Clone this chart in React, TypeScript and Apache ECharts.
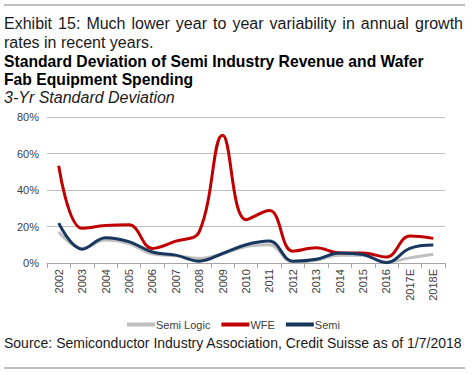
import React, { useEffect, useRef } from "react";
import * as echarts from "echarts";

const categories = ["2002","2003","2004","2005","2006","2007","2008","2009","2010","2011","2012","2013","2014","2015","2016","2017E","2018E"];
const semiLogic = [17, 8, 12.6, 10.7, 5, 4, 2.5, 5, 9, 10, 0.5, 1.5, 4.3, 4.3, 0.5, 2.8, 4.8];
const wfe = [53.3, 19, 20.5, 21, 8, 12, 17, 70, 23.7, 28.7, 6.5, 8.3, 5.5, 5.5, 3.3, 14.8, 13.5];
const semi = [21.8, 7.6, 13.9, 11.7, 6, 4.3, 1, 5.2, 10, 12, 1, 2, 5.5, 4.6, 0.2, 8, 9.8];
const yTicks = [0, 20, 40, 60, 80];

const FONT = "'Liberation Sans', Arial, sans-serif";
const TITLE1 = "Exhibit 15: Much lower year to year variability in annual growth";

function justifiedWords(text: string, font: string, x0: number, x1: number, y: number, fill: string) {
  const words = text.split(" ");
  const cv = document.createElement("canvas");
  const ctx = cv.getContext("2d")!;
  ctx.font = font;
  const widths = words.map((w) => ctx.measureText(w).width);
  const total = widths.reduce((a, b) => a + b, 0);
  const gap = (x1 - x0 - total) / (words.length - 1);
  let x = x0;
  return words.map((w, i) => {
    const el = { type: "text", x, y, style: { text: w, font, fill, verticalAlign: "middle", align: "left" } };
    x += widths[i] + gap;
    return el;
  });
}

export default function App() {
  const ref = useRef<HTMLDivElement>(null);
  useEffect(() => {
    if (!ref.current) return;
    const chart = echarts.init(ref.current, null, { renderer: "svg" });
    const f16 = `16px ${FONT}`;
    chart.setOption({
      animation: false,
      backgroundColor: "#ffffff",
      textStyle: { fontFamily: FONT },
      graphic: [
        { type: "line", shape: { x1: 4, y1: 5, x2: 465, y2: 5 }, style: { stroke: "#c0c0c0", lineWidth: 2 } },
        ...justifiedWords(TITLE1, f16, 4, 463, 23, "#1a1a1a"),
        { type: "text", x: 4, y: 42, style: { text: "rates in recent years.", font: f16, fill: "#1a1a1a", verticalAlign: "middle" } },
        { type: "text", x: 4, y: 61, style: { text: "Standard Deviation of Semi Industry Revenue and Wafer", font: `bold 15.7px ${FONT}`, fill: "#000000", verticalAlign: "middle" } },
        { type: "text", x: 4, y: 79, style: { text: "Fab Equipment Spending", font: `bold 15.7px ${FONT}`, fill: "#000000", verticalAlign: "middle" } },
        { type: "text", x: 4, y: 97, style: { text: "3-Yr Standard Deviation", font: `italic 16px ${FONT}`, fill: "#1a1a1a", verticalAlign: "middle" } },
        { type: "text", x: 4, y: 343, style: { text: "Source: Semiconductor Industry Association, Credit Suisse as of 1/7/2018", font: `14px ${FONT}`, fill: "#1a1a1a", verticalAlign: "middle" } },
        { type: "line", shape: { x1: 4, y1: 368, x2: 465, y2: 368 }, style: { stroke: "#c0c0c0", lineWidth: 2 } }
      ],
      grid: { left: 47, right: 27, top: 117, bottom: 112, containLabel: false },
      legend: {
        left: 122,
        top: 314,
        icon: "rect",
        itemWidth: 28,
        itemHeight: 4,
        itemGap: 11,
        textStyle: { fontSize: 11, color: "#404040", fontFamily: FONT, padding: [0, 0, 0, -4] },
        data: ["Semi Logic", "WFE", "Semi"]
      },
      xAxis: {
        type: "category",
        data: categories,
        boundaryGap: true,
        axisLine: { lineStyle: { color: "#a6a6a6", width: 1 } },
        axisTick: { show: true, alignWithLabel: false, length: 5, lineStyle: { color: "#a6a6a6" } },
        axisLabel: { rotate: 90, fontSize: 11, color: "#404040", fontFamily: FONT, interval: 0, margin: 6 }
      },
      yAxis: {
        type: "value",
        min: 0,
        max: 80,
        interval: 20,
        axisLine: { show: false },
        axisTick: { show: false },
        splitLine: { lineStyle: { color: "#bfbfbf", width: 1 } },
        axisLabel: { formatter: (v: number) => (yTicks.includes(v) ? v + "%" : ""), fontSize: 11, color: "#404040", fontFamily: FONT, margin: 8 }
      },
      series: [
        { name: "Semi Logic", type: "line", data: semiLogic, smooth: 0.4, showSymbol: false, symbol: "none", lineStyle: { color: "#bfbfbf", width: 3 }, itemStyle: { color: "#bfbfbf" }, z: 1 },
        { name: "WFE", type: "line", data: wfe, smooth: 0.4, showSymbol: false, symbol: "none", lineStyle: { color: "#c00000", width: 3 }, itemStyle: { color: "#c00000" }, z: 2 },
        { name: "Semi", type: "line", data: semi, smooth: 0.4, showSymbol: false, symbol: "none", lineStyle: { color: "#17375e", width: 3 }, itemStyle: { color: "#17375e" }, z: 3 }
      ]
    });
    return () => chart.dispose();
  }, []);
  return <div ref={ref} style={{ position: "fixed", left: 0, top: 0, width: 472, height: 375 }} />;
}
